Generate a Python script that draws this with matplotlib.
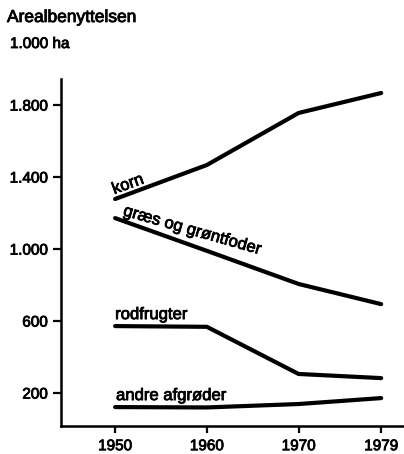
import matplotlib
matplotlib.use('Agg')
from matplotlib import pyplot as plt
import matplotlib.patheffects as pe

plt.rcParams['font.family'] = ['Liberation Sans', 'DejaVu Sans']

years = [1950, 1960, 1970, 1979]
korn = [1278, 1467, 1756, 1867]
graes = [1172, 990, 806, 694]
rodfrugter = [572, 568, 306, 283]
andre = [122, 120, 139, 172]

yticks = [200, 600, 1000, 1400, 1800]
ytick_labels = ['200', '600', '1.000', '1.400', '1.800']

# slightly heavier strokes, like the printed original
heavy = [pe.withStroke(linewidth=0.6, foreground='black')]

fig = plt.figure(figsize=(4.04, 4.54), dpi=100)
ax = fig.add_axes([0.151, 0.0617, 0.847, 0.764])

for series in (korn, graes, rodfrugter, andre):
    ax.plot(years, series, color='black', lw=3.0, solid_capstyle='round', solid_joinstyle='round')

ax.set_xlim(1944.1, 1981.4)
ax.set_ylim(17, 1944)
ax.set_xticks(years)
ax.set_xticklabels([str(y) for y in years])
ax.set_yticks(yticks)
ax.set_yticklabels(ytick_labels)

for side in ('top', 'right'):
    ax.spines[side].set_visible(False)
for side in ('left', 'bottom'):
    ax.spines[side].set_linewidth(1.8)
ax.tick_params(axis='y', length=6, width=1.6, pad=3.5, labelsize=11)
ax.tick_params(axis='x', length=5, width=1.6, pad=4.5, labelsize=11)
for lbl in ax.get_xticklabels() + ax.get_yticklabels():
    lbl.set_path_effects(heavy)

# line labels
ax.text(1949.9, 1305, 'korn', rotation=20, rotation_mode='anchor', ha='left', va='baseline', fontsize=12, path_effects=heavy)
ax.text(1950.8, 1189, 'græs og grøntfoder', rotation=-16, rotation_mode='anchor', ha='left', va='baseline', fontsize=12, path_effects=heavy)
ax.text(1950.0, 611, 'rodfrugter', ha='left', va='baseline', fontsize=12, path_effects=heavy)
ax.text(1950.1, 161, 'andre afgrøder', ha='left', va='baseline', fontsize=12, path_effects=heavy)

fig.text(7 / 404, 1 - 22 / 454, 'Arealbenyttelsen', ha='left', va='baseline', fontsize=12.5, path_effects=heavy)
fig.text(10 / 404, 1 - 48 / 454, '1.000 ha', ha='left', va='baseline', fontsize=11, path_effects=heavy)

fig.savefig('out.png', dpi=100)
